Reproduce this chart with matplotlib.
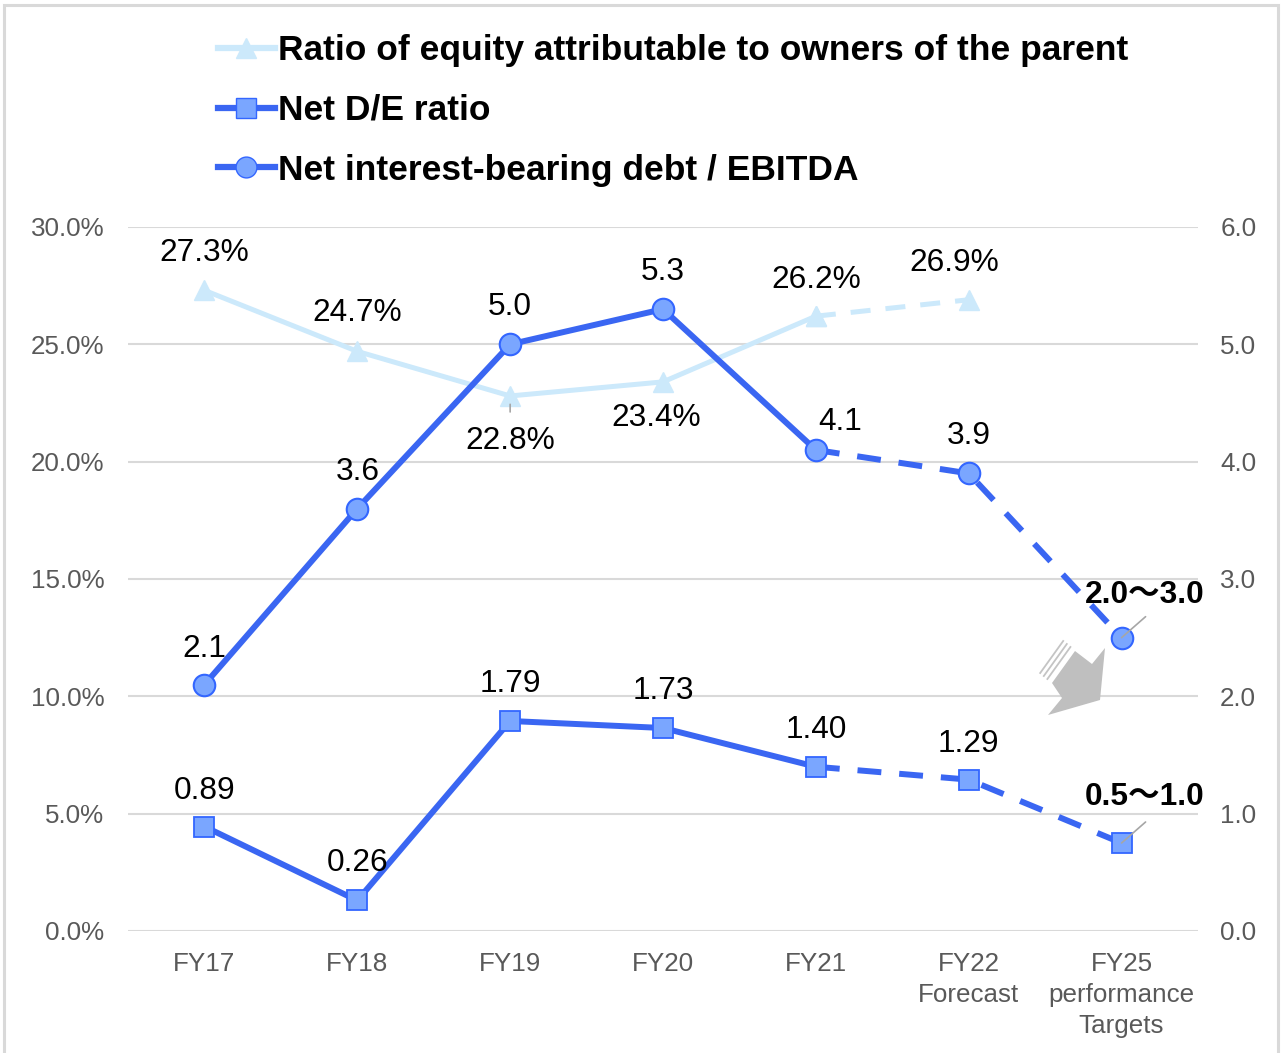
import matplotlib
matplotlib.use("Agg")
import matplotlib.pyplot as plt
from matplotlib.lines import Line2D
from matplotlib.patches import Polygon, Rectangle

plt.rcParams['font.family'] = ['Liberation Sans', 'Noto Sans CJK JP', 'DejaVu Sans']

# ---------------- data ----------------
categories = ["FY17", "FY18", "FY19", "FY20", "FY21", "FY22\nForecast", "FY25\nperformance\nTargets"]
equity_ratio = [27.3, 24.7, 22.8, 23.4, 26.2, 26.9]          # %, left axis (FY17..FY22)
equity_labels = ["27.3%", "24.7%", "22.8%", "23.4%", "26.2%", "26.9%"]
net_de = [0.89, 0.26, 1.79, 1.73, 1.40, 1.29, 0.75]            # right axis
net_de_labels = ["0.89", "0.26", "1.79", "1.73", "1.40", "1.29", "0.5\u301c1.0"]
debt_ebitda = [2.1, 3.6, 5.0, 5.3, 4.1, 3.9, 2.5]              # right axis
debt_ebitda_labels = ["2.1", "3.6", "5.0", "5.3", "4.1", "3.9", "2.0\u301c3.0"]
left_ticks = [0, 5, 10, 15, 20, 25, 30]
right_ticks = [0, 1, 2, 3, 4, 5, 6]
legend_labels = ["Ratio of equity attributable to owners of the parent",
                 "Net D/E ratio",
                 "Net interest-bearing debt / EBITDA"]

# label offsets (pixels)
eq_off = [(0, 37), (0, 38), (0, -45), (-7, -36), (0, 36), (-14, 37)]
de_off = [(0, 36), (0, 37), (0, 37), (0, 37), (0, 37), (0, 36), (23, 46)]
eb_off = [(0, 36), (0, 37), (0, 37), (0, 37), (24, 28), (0, 37), (23, 43)]

# ---------------- styles ----------------
BLUE = '#3a66f2'
MFILL = '#7aa6ff'
MEDGE = '#3366ff'
LIGHT = '#cce9fb'
GRID = '#d9d9d9'
TICKC = '#595959'

W, H = 1284, 1053
fig = plt.figure(figsize=(W / 100, H / 100), dpi=100)
ax = fig.add_axes([128 / W, 122 / H, 1070 / W, 704 / H])
ax2 = ax.twinx()

x = list(range(len(categories)))

# equity ratio (left axis)
ax.plot(x[:5], equity_ratio[:5], color=LIGHT, lw=3.6, marker='^', ms=15,
        mfc=LIGHT, mec=LIGHT, zorder=3)
ax.plot(x[4:6], equity_ratio[4:6], color=LIGHT, lw=3.6, ls=(0, (4, 3)), zorder=3)
ax.plot(x[4:6], equity_ratio[4:6], color=LIGHT, lw=0, marker='^', ms=15,
        mfc=LIGHT, mec=LIGHT, zorder=3)

# net D/E (right axis)
ax2.plot(x[:5], net_de[:5], color=BLUE, lw=4.3, zorder=3)
ax2.plot(x[4:], net_de[4:], color=BLUE, lw=4.3, ls=(0, (4, 3)), zorder=3)
ax2.plot(x, net_de, lw=0, marker='s', ms=15, mfc=MFILL, mec=MEDGE, mew=1.3, zorder=4)

# net debt / EBITDA (right axis)
ax2.plot(x[:5], debt_ebitda[:5], color=BLUE, lw=4.3, zorder=3)
ax2.plot(x[4:], debt_ebitda[4:], color=BLUE, lw=4.3, ls=(0, (4, 3)), zorder=3)
ax2.plot(x, debt_ebitda, lw=0, marker='o', ms=15.5, mfc=MFILL, mec=MEDGE, mew=1.5, zorder=4)

# axes formatting
ax.set_xlim(-0.5, len(categories) - 0.5)
ax.set_ylim(0, 30)
ax2.set_ylim(0, 6)
ax.set_yticks(left_ticks)
ax.set_yticklabels([f"{v:.1f}%" for v in left_ticks])
ax2.set_yticks(right_ticks)
ax2.set_yticklabels([f"{v:.1f}" for v in right_ticks])
ax.set_xticks(x)
ax.set_xticklabels(categories, linespacing=1.36)
for a in (ax, ax2):
    for s in a.spines.values():
        s.set_visible(False)
    a.tick_params(length=0, colors=TICKC, labelsize=18.7)
ax.tick_params(axis='y', pad=17)
ax2.tick_params(axis='y', pad=16)
ax.tick_params(axis='x', pad=15)
ax.grid(axis='y', color=GRID, lw=1.5)
ax.set_axisbelow(True)
ax2.set_zorder(ax.get_zorder() + 1)
ax2.patch.set_visible(False)

# data labels
for i, (v, t) in enumerate(zip(equity_ratio, equity_labels)):
    ax.annotate(t, (x[i], v), xytext=eq_off[i], textcoords='offset pixels',
                ha='center', va='center', fontsize=22.8, color='black', zorder=6)
for i, (v, t) in enumerate(zip(net_de, net_de_labels)):
    bold = i == len(net_de) - 1
    ax2.annotate(t, (x[i], v), xytext=de_off[i], textcoords='offset pixels',
                 ha='center', va='center', fontsize=22.8, color='black',
                 fontweight='bold' if bold else 'normal', zorder=6)
for i, (v, t) in enumerate(zip(debt_ebitda, debt_ebitda_labels)):
    bold = i == len(debt_ebitda) - 1
    ax2.annotate(t, (x[i], v), xytext=eb_off[i], textcoords='offset pixels',
                 ha='center', va='center', fontsize=22.8, color='black',
                 fontweight='bold' if bold else 'normal', zorder=6)

# leader lines
ax.annotate('', (x[2], equity_ratio[2]), xytext=(0, -16), textcoords='offset pixels',
            arrowprops=dict(arrowstyle='-', color='#a6a6a6', lw=1.2, shrinkA=0, shrinkB=6))
for series in (net_de, debt_ebitda):
    ax2.annotate('', (x[6], series[6]), xytext=(24, 21), textcoords='offset pixels',
                 arrowprops=dict(arrowstyle='-', color='#a6a6a6', lw=1.2, shrinkA=0, shrinkB=0),
                 zorder=7)

# gray block arrow (decoration), positioned in figure pixels
def px_to_data(px, py):
    return ((px - 128) / (1070 / 7) - 0.5, (931 - py) / (704 / 6))

arrow_px = [(1075, 651), (1092, 664), (1105, 648), (1100, 700),
            (1048, 715), (1062, 698), (1052, 683)]
ax2.add_patch(Polygon([px_to_data(*p) for p in arrow_px], closed=True,
                      facecolor='#bfbfbf', edgecolor='none', zorder=2))
for k in range(3):
    dx, dy = -3.6 * (k + 1), -3.0 * (k + 1)
    p1 = px_to_data(1074 + dx, 650 + dy)
    p2 = px_to_data(1051 + dx, 682 + dy)
    ax2.plot([p1[0], p2[0]], [p1[1], p2[1]], color='#c4c4c4', lw=1.3, zorder=2)

# legend
handles = [
    Line2D([], [], color=LIGHT, lw=4.5, marker='^', ms=15, mfc=LIGHT, mec=LIGHT),
    Line2D([], [], color=BLUE, lw=4.5, marker='s', ms=15, mfc=MFILL, mec=MEDGE),
    Line2D([], [], color=BLUE, lw=4.5, marker='o', ms=15, mfc=MFILL, mec=MEDGE),
]
fig.legend(handles, legend_labels, loc='upper left',
           bbox_to_anchor=(218 / W, 1 - 34 / H), frameon=False,
           prop=dict(family=['Liberation Sans'], weight='bold', size=25.5),
           handlelength=1.6, handletextpad=0.1, labelspacing=0.76,
           borderpad=0, borderaxespad=0)

# outer frame
fig.patches.append(Rectangle((4 / W, -0.02), (1278 - 4) / W, 1 - 5 / H + 0.02,
                             transform=fig.transFigure, fill=False,
                             edgecolor=GRID, lw=2.2, zorder=0))

fig.savefig("out.png", dpi=100)
